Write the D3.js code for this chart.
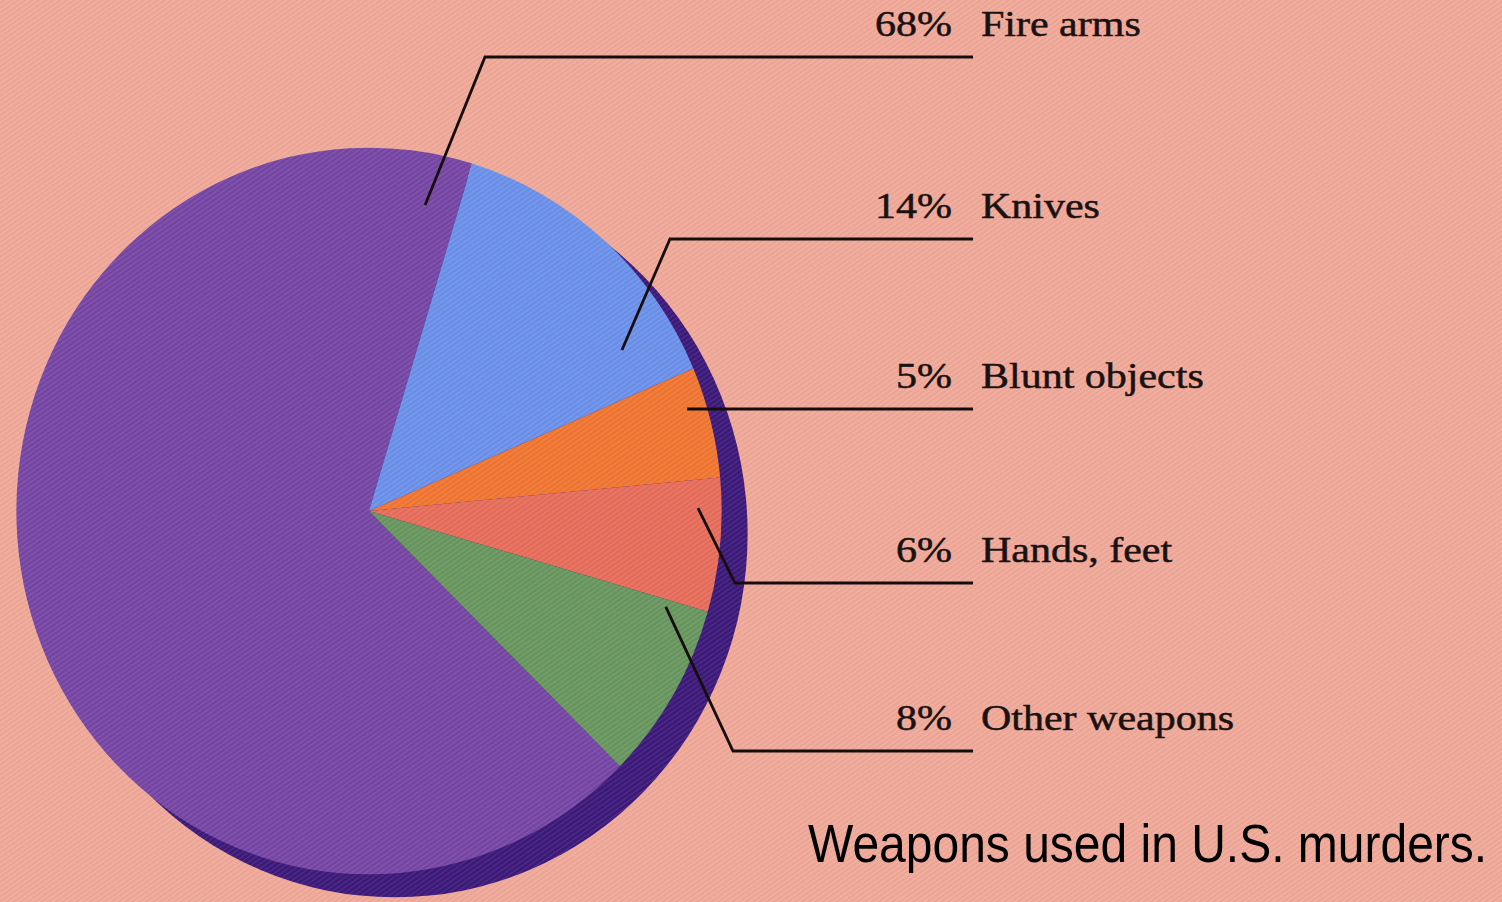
<!DOCTYPE html>
<html>
<head>
<meta charset="utf-8">
<script src="https://cdn.jsdelivr.net/npm/d3@7"></script>
<style>
html, body { margin: 0; padding: 0; background: #efa898; overflow: hidden; }
svg { display: block; }
</style>
</head>
<body>
<div id="chart"></div>
<script>
/* --- data --- */
const categories = ["Fire arms", "Knives", "Blunt objects", "Hands, feet", "Other weapons"];
const percents = [68, 14, 5, 6, 8];
const sliceColors = ["#7545a4", "#6a90ea", "#f07530", "#e66c5a", "#67965e"];

/* --- layout --- */
const width = 1502, height = 902;
const center = {x: 369, y: 511};
const radius = 358;
const squash = {x: 0.985, y: 1.015};
const shadowOffset = {x: 26, y: 23};
const knivesStartDeg = 17;

const labelBaseline = [36, 218, 388, 562, 730];
const leaderGap = 21;
const pctRight = 952, nameLeft = 981, lineEnd = 973;
const textStretch = 1.2;
// where each leader touches the pie (angle in degrees, fraction of radius) and its elbow
const leaderAnchor = [
    {angle: 10.7, r: 0.857, elbowX: 485},
    {angle: 58.3, r: 0.843, elbowX: 670},
    {angle: 72.7, r: 0.945, elbowX: null},
    {angle: 89.5, r: 0.933, elbowX: 735},
    {angle: 107.4, r: 0.882, elbowX: 733}
];

const data = categories.map((c, i) => ({name: c, value: percents[i], color: sliceColors[i]}));

const svg = d3.select("#chart").append("svg")
    .attr("width", width)
    .attr("height", height)
    .attr("viewBox", `0 0 ${width} ${height}`);

/*--- background + weave texture ---*/
const defs = svg.append("defs");
const weave = defs.append("pattern")
    .attr("id", "weave")
    .attr("patternUnits", "userSpaceOnUse")
    .attr("width", 4).attr("height", 4)
    .attr("patternTransform", "rotate(-35)");
weave.append("rect").attr("width", 4).attr("height", 1.2).attr("fill", "#ffffff").attr("opacity", 0.1);
weave.append("rect").attr("y", 2).attr("width", 4).attr("height", 0.8).attr("fill", "#5a2a2a").attr("opacity", 0.05);

svg.append("rect").attr("width", width).attr("height", height).attr("fill", "#efa898");

/*--- pie ---*/
const total = d3.sum(percents);
const start = (knivesStartDeg * Math.PI / 180) - percents[0] / total * 2 * Math.PI;

const pie = d3.pie().sort(null).value(d => d.value)
    .startAngle(start).endAngle(start + 2 * Math.PI);
const arc = d3.arc().innerRadius(0).outerRadius(radius);

svg.append("g")
    .attr("transform", `translate(${center.x + shadowOffset.x},${center.y + shadowOffset.y}) scale(${squash.x},${squash.y})`)
    .append("path")
    .attr("d", arc({startAngle: 0, endAngle: 2 * Math.PI}))
    .attr("fill", "#3b1879");

svg.append("g")
    .attr("transform", `translate(${center.x},${center.y}) scale(${squash.x},${squash.y})`)
    .selectAll("path")
    .data(pie(data))
    .join("path")
    .attr("d", arc)
    .attr("fill", d => d.data.color);

svg.append("rect").attr("width", width).attr("height", height).attr("fill", "url(#weave)");

/*--- leaders ---*/
const leaders = svg.append("g")
    .attr("fill", "none")
    .attr("stroke", "#160e0e")
    .attr("stroke-width", 2.8);

data.forEach((d, i) => {
    const a = leaderAnchor[i];
    const t = a.angle * Math.PI / 180;
    const ax = center.x + Math.sin(t) * a.r * radius * squash.x;
    const ay = center.y - Math.cos(t) * a.r * radius * squash.y;
    const ly = labelBaseline[i] + leaderGap;
    const pts = a.elbowX === null
        ? [[ax, ly], [lineEnd, ly]]
        : [[ax, ay], [a.elbowX, ly], [lineEnd, ly]];
    leaders.append("path").attr("d", d3.line()(pts));
});

/*--- labels ---*/
const labels = svg.append("g")
    .attr("font-family", "'Liberation Serif', 'Times New Roman', serif")
    .attr("font-size", 35)
    .attr("fill", "#1a1212")
    .attr("stroke", "#1a1212")
    .attr("stroke-width", 0.5);

data.forEach((d, i) => {
    labels.append("text")
        .attr("transform", `translate(${pctRight},${labelBaseline[i]}) scale(${textStretch},1)`)
        .attr("text-anchor", "end")
        .text(d.value + "%");
    labels.append("text")
        .attr("transform", `translate(${nameLeft},${labelBaseline[i]}) scale(${textStretch},1)`)
        .text(d.name);
});

/*--- caption ---*/
svg.append("text")
    .attr("transform", "translate(808,862) scale(1,1.1)")
    .attr("font-family", "'Liberation Sans', Arial, sans-serif")
    .attr("font-size", 48)
    .attr("fill", "#000")
    .text("Weapons used in U.S. murders.");
</script>
</body>
</html>
